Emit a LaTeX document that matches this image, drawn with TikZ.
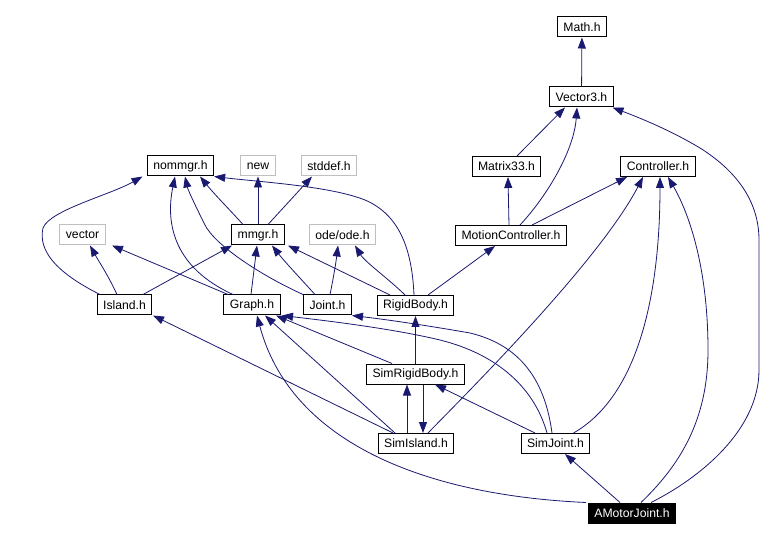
\documentclass[tikz,border=0pt]{standalone}
\usepackage{fontspec}
\setmainfont{Liberation Sans}
\usetikzlibrary{arrows.meta}
\definecolor{incblue}{RGB}{25,25,112}
\tikzstyle{file} = [draw=black, line width=1pt, minimum height=20pt, inner xsep=6pt, inner ysep=0pt, font=\fontsize{12.2}{14}\selectfont]
\tikzstyle{extfile} = [file, draw=black!25]
\tikzstyle{thisfile} = [file, fill=black, text=white]
\tikzstyle{inc} = [-{Triangle[length=11pt,width=8pt]}, draw=incblue, line width=0.8pt]

\begin{document}
\begin{tikzpicture}[x=1pt,y=-1pt]
                    \useasboundingbox (0,0) rectangle (777,540);
                    \node[file] (math) at (582,27) {Math.h};
                    \node[file] (vec3) at (581.5,97) {Vector3.h};
                    \node[file] (matrix) at (506.5,166.5) {Matrix33.h};
                    \node[file] (ctrl) at (658,166.5) {Controller.h};
                    \node[file] (nommgr) at (180.5,166) {nommgr.h};
                    \node[extfile] (new) at (258,166) {new};
                    \node[extfile] (stddef) at (329,166) {stddef.h};
                    \node[extfile] (vector) at (82.5,235) {vector};
                    \node[file] (mmgr) at (258,235) {mmgr.h};
                    \node[extfile] (ode) at (342.5,235) {ode/ode.h};
                    \node[file] (motion) at (511,235.5) {MotionController.h};
                    \node[file] (island) at (124.5,305) {Island.h};
                    \node[file] (graph) at (252,305) {Graph.h};
                    \node[file] (joint) at (327.5,305) {Joint.h};
                    \node[file] (rigid) at (415.5,305.5) {RigidBody.h};
                    \node[file] (simrb) at (415.5,374) {SimRigidBody.h};
                    \node[file] (simisl) at (416,443.5) {SimIsland.h};
                    \node[file] (simjoint) at (555.5,443.5) {SimJoint.h};
                    \node[thisfile] (amotor) at (632,513) {AMotorJoint.h};

                    \draw[inc] (vec3) -- (math);
                    \draw[inc] ([xshift=10.5]matrix.north) -- ([xshift=-16.5]vec3.south);
                    \draw[inc] ([xshift=-2]motion.north) -- ([xshift=1.5]matrix.south);
                    \draw[inc] ([xshift=9]motion.north) .. controls (548,195) and (574,150) .. ([xshift=-4.5]vec3.south);
                    \draw[inc] ([xshift=21]motion.north) -- ([xshift=-31]ctrl.south);
                    \draw[inc] ([xshift=12]simisl.north) .. controls (470,390) and (600,260) .. ([xshift=-15]ctrl.south);
                    \draw[inc] ([xshift=18]simjoint.north) .. controls (640,395) and (660,290) .. ([xshift=2]ctrl.south);
                    \draw[inc] ([xshift=9]amotor.north) .. controls (680,465) and (708,420) .. (708,350) .. controls (708,270) and (690,215) .. ([xshift=10]ctrl.south);
                    \draw[inc] ([xshift=19]amotor.north) .. controls (700,478) and (759,430) .. (759,370) -- (759,240) .. controls (759,200) and (735,170) .. (700,148) .. controls (670,130) and (640,118) .. ([xshift=31]vec3.south);
                    \draw[inc] ([xshift=-12]amotor.north) -- ([xshift=9.5]simjoint.south);
                    \draw[inc] ([xshift=-46]amotor.north) .. controls (420,495) and (290,440) .. ([xshift=5]graph.south);
                    \draw[inc] ([xshift=-20.5]simjoint.north) -- ([xshift=19.5]simrb.south);
                    \draw[inc] ([xshift=-3.5]simjoint.north) .. controls (545,380) and (520,345) .. (470,333) .. controls (430,326) and (390,320) .. (joint.south east);
                    \draw[inc] ([xshift=-8.5]simjoint.north) .. controls (535,390) and (500,355) .. (440,340) .. controls (390,328) and (320,320) .. ([xshift=30]graph.south);
                    \draw[inc] ([xshift=-9]simisl.north) -- ([xshift=-8.5]simrb.south);
                    \draw[inc] ([xshift=7.5]simrb.south) -- ([xshift=7]simisl.north);
                    \draw[inc] ([xshift=-23]simisl.north) -- ([xshift=28.5]island.south);
                    \draw[inc] ([xshift=-21]simisl.north) -- ([xshift=13]graph.south);
                    \draw[inc] ([xshift=-23.5]simrb.north) -- ([xshift=24]graph.south);
                    \draw[inc] (simrb) -- (rigid);
                    \draw[inc] ([xshift=12.5]rigid.north) -- ([xshift=-16]motion.south);
                    \draw[inc] ([xshift=-10.5]rigid.north) .. controls (390,280) and (365,262) .. ([xshift=12.5]ode.south);
                    \draw[inc] ([xshift=-25.5]rigid.north) -- ([xshift=30]mmgr.south);
                    \draw[inc] ([xshift=-1.5]rigid.north) .. controls (412,250) and (400,215) .. (365,200) .. controls (330,186) and (260,182) .. (nommgr.south east);
                    \draw[inc] ([xshift=2.5]joint.north) .. controls (334,275) and (336,262) .. ([xshift=-4.5]ode.south);
                    \draw[inc] ([xshift=-12.5]joint.north) .. controls (300,278) and (285,262) .. ([xshift=14]mmgr.south);
                    \draw[inc] (joint.north west) .. controls (260,275) and (215,245) .. (205,225) .. controls (195,205) and (188,190) .. ([xshift=4.5]nommgr.south);
                    \draw[inc] ([xshift=-1]graph.north) -- ([xshift=-1]mmgr.south);
                    \draw[inc] ([xshift=-19]graph.north) .. controls (175,268) and (165,225) .. ([xshift=-5.5]nommgr.south);
                    \draw[inc] ([xshift=-24]graph.north) -- ([xshift=29.5]vector.south);
                    \draw[inc] ([xshift=-7.5]island.north) .. controls (108,275) and (98,260) .. ([xshift=7.5]vector.south);
                    \draw[inc] ([xshift=18.5]island.north) -- ([xshift=-26]mmgr.south);
                    \draw[inc] ([xshift=-24.5]island.north) .. controls (55,272) and (38,250) .. (43,228) .. controls (50,210) and (110,195) .. ([xshift=-38]nommgr.south);
                    \draw[inc] ([xshift=-15]mmgr.north) .. controls (230,210) and (215,195) .. ([xshift=19.5]nommgr.south);
                    \draw[inc] (mmgr) -- (new);
                    \draw[inc] ([xshift=10]mmgr.north) -- ([xshift=-17]stddef.south);
                \end{tikzpicture}
\end{document}
